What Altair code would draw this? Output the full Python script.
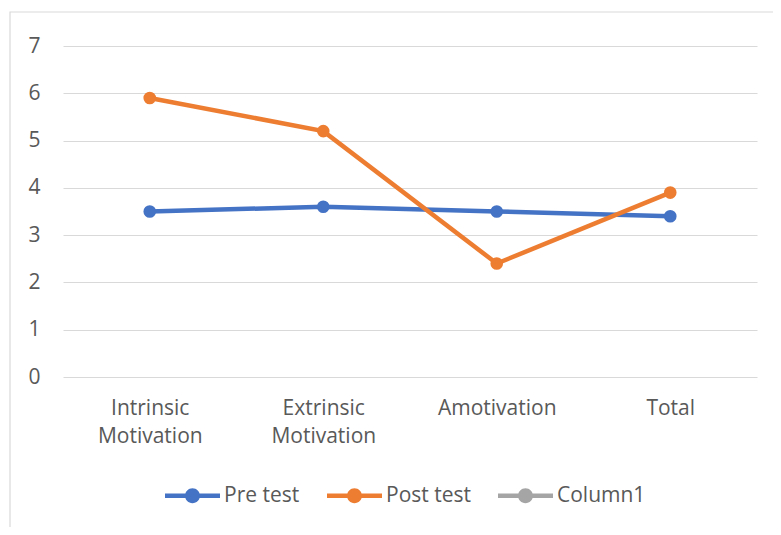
import altair as alt
import pandas as pd

categories = ["Intrinsic Motivation", "Extrinsic Motivation", "Amotivation", "Total"]
pre_test = [3.5, 3.6, 3.5, 3.4]
post_test = [5.9, 5.2, 2.4, 3.9]
series_names = ["Pre test", "Post test", "Column1"]
series_colors = ["#4472c4", "#ed7d31", "#a5a5a5"]
y_ticks = [0, 1, 2, 3, 4, 5, 6, 7]

rows = []
for c, v in zip(categories, pre_test):
    rows.append({"category": c, "value": v, "series": "Pre test"})
for c, v in zip(categories, post_test):
    rows.append({"category": c, "value": v, "series": "Post test"})
df = pd.DataFrame(rows)

FONT = "Open Sans"
TXT = "#595959"

legend_path = ("M-1,-0.085H1V0.085H-1Z "
               "M-0.27,0A0.27,0.27 0 1,1 0.27,0A0.27,0.27 0 1,1 -0.27,0Z")

color = alt.Color(
    "series:N",
    scale=alt.Scale(domain=series_names, range=series_colors),
    legend=alt.Legend(
        title=None,
        orient="none",
        legendX=102,
        legendY=422,
        direction="horizontal",
        symbolType=legend_path,
        symbolSize=3025,
        symbolStrokeWidth=0,
        labelFontSize=21,
        labelFont=FONT,
        labelColor=TXT,
        labelOffset=4,
        columnPadding=27,
    ),
)

x = alt.X(
    "category:N",
    sort=categories,
    axis=alt.Axis(
        title=None,
        labelAngle=0,
        labelExpr="split(datum.label, ' ')",
        labelFont=FONT,
        labelFontSize=21,
        labelColor=TXT,
        labelLineHeight=28,
        labelPadding=20,
        domain=False,
        ticks=False,
        grid=False,
    ),
)
y = alt.Y(
    "value:Q",
    scale=alt.Scale(domain=[0, 7]),
    axis=alt.Axis(
        title=None,
        values=y_ticks,
        labelFont=FONT,
        labelFontSize=21,
        labelColor=TXT,
        labelPadding=23,
        domain=False,
        ticks=False,
        grid=True,
        gridColor="#d9d9d9",
        gridWidth=1,
    ),
)

base = alt.Chart(df).encode(x=x, y=y, color=color)
lines = base.mark_line(strokeWidth=4.5)
points = base.mark_point(filled=True, size=160, opacity=1)

border = alt.Chart(pd.DataFrame({"a": [0]})).mark_rect(
    filled=False, stroke="#d9d9d9", strokeWidth=1.2, clip=False
).encode(
    x=alt.value(-53), x2=alt.value(900), y=alt.value(-34), y2=alt.value(700)
)

chart = alt.layer(border, lines, points).properties(
    width=694,
    height=331,
    autosize=alt.AutoSizeParams(type="none"),
    padding={"left": 55, "top": 38, "right": 16, "bottom": 150},
    background="white",
).configure_view(stroke=None)

chart.save("out.html", embed_options={"renderer": "svg", "actions": False})
